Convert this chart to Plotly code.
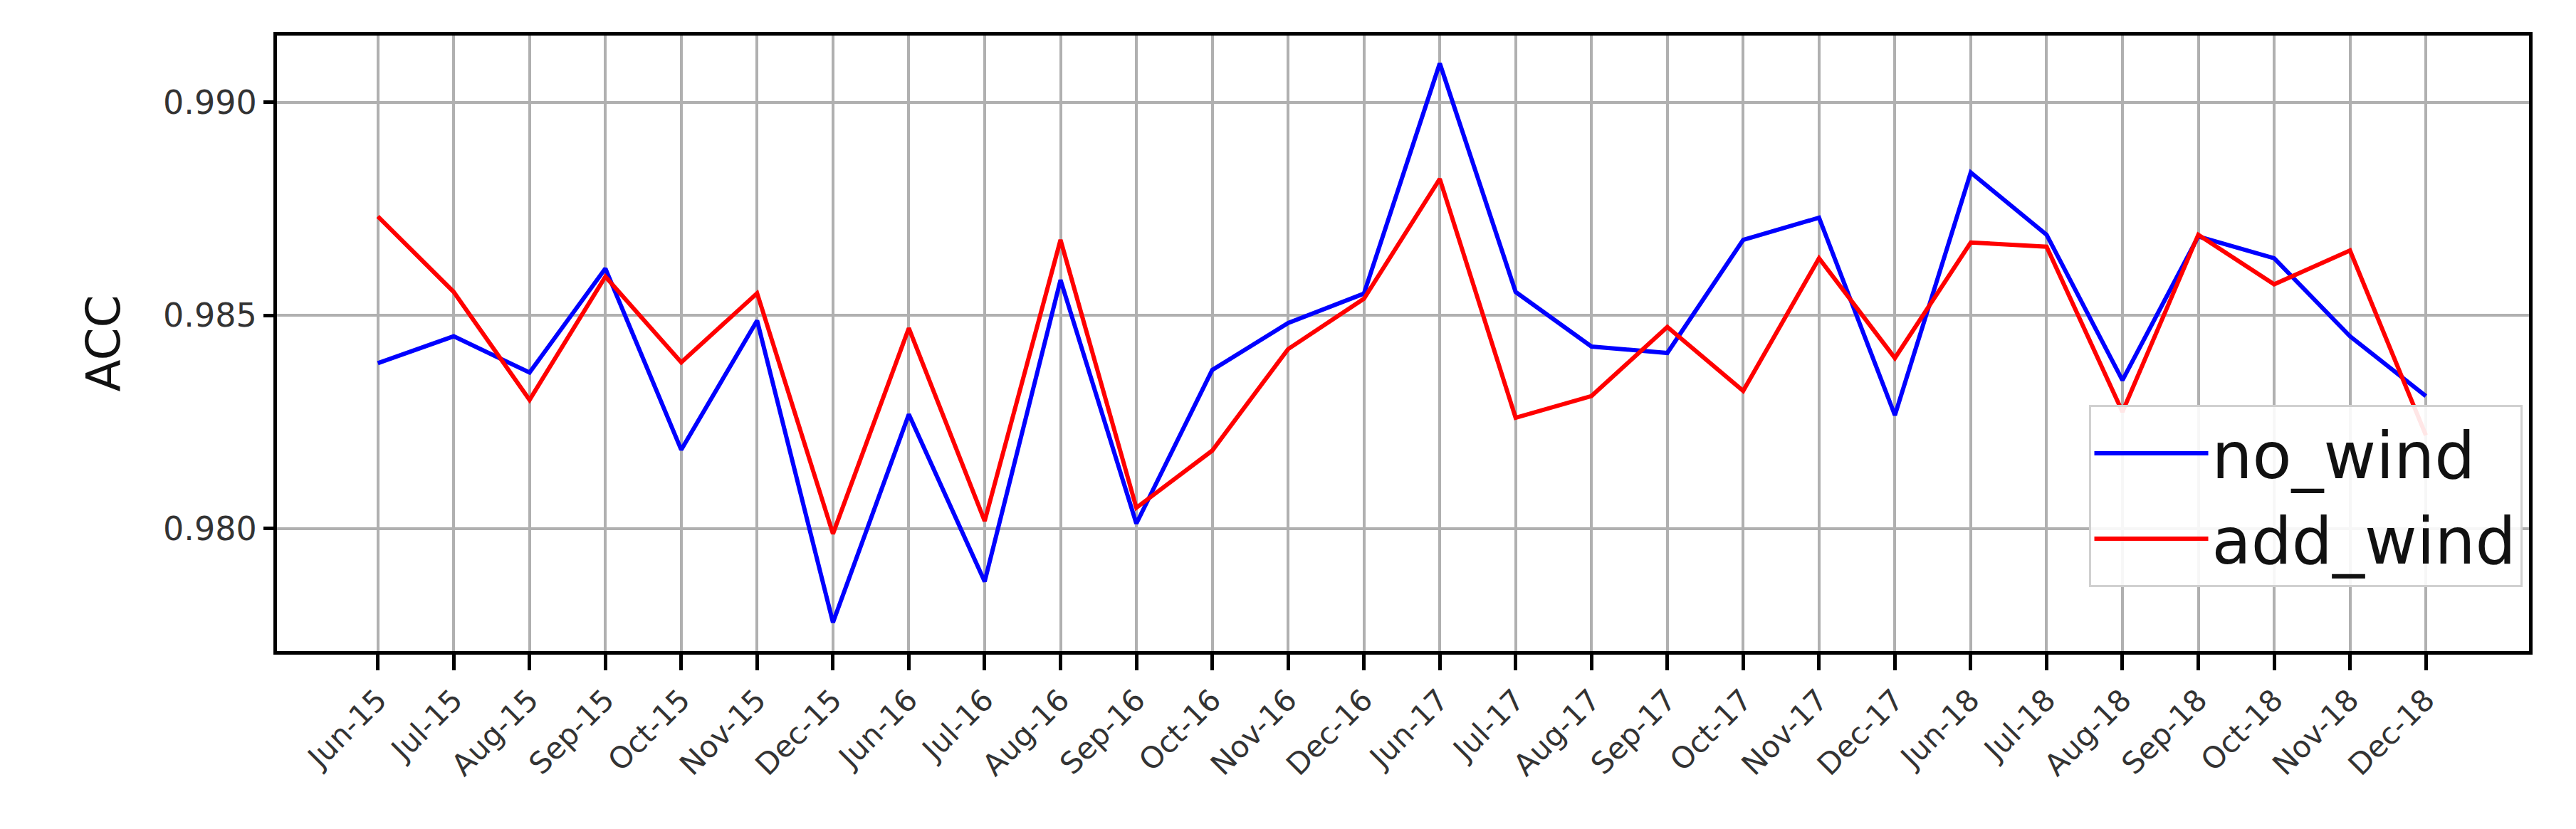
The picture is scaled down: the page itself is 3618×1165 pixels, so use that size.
import plotly.graph_objects as go

months = ["Jun-15","Jul-15","Aug-15","Sep-15","Oct-15","Nov-15","Dec-15","Jun-16","Jul-16","Aug-16","Sep-16","Oct-16","Nov-16","Dec-16",
          "Jun-17","Jul-17","Aug-17","Sep-17","Oct-17","Nov-17","Dec-17","Jun-18","Jul-18","Aug-18","Sep-18","Oct-18","Nov-18","Dec-18"]
no_wind = [0.98388,0.98451,0.98366,0.98610,0.98185,0.98488,0.97780,0.98268,0.97876,0.98583,0.98012,0.98372,0.98482,0.98551,
           0.99091,0.98555,0.98427,0.98412,0.98677,0.98729,0.98266,0.98835,0.98689,0.98348,0.98685,0.98634,0.98451,0.98311]
add_wind = [0.98732,0.98555,0.98302,0.98591,0.98390,0.98552,0.97988,0.98470,0.98018,0.98677,0.98049,0.98183,0.98421,0.98539,
            0.98820,0.98260,0.98311,0.98473,0.98323,0.98634,0.98400,0.98671,0.98661,0.98274,0.98689,0.98573,0.98652,0.98219]
yticks = [0.980, 0.985, 0.990]

x = list(range(len(months)))
fig = go.Figure()
fig.add_trace(go.Scatter(x=x, y=no_wind, mode="lines", name="no_wind", line=dict(color="#0000ff", width=6)))
fig.add_trace(go.Scatter(x=x, y=add_wind, mode="lines", name="add_wind", line=dict(color="#ff0000", width=6)))

fig.update_layout(
    width=3618, height=1165, plot_bgcolor="white", paper_bgcolor="white",
    margin=dict(l=381, r=3618-3544, t=42, b=1165-907),
    font=dict(family="DejaVu Sans", color="#222"),
    legend=dict(x=0.997, y=0.40, xanchor="right", yanchor="top", bgcolor="rgba(255,255,255,0.9)",
                bordercolor="#d0d0d0", borderwidth=3, font=dict(size=90, color="#111"), itemwidth=160,
                tracegroupgap=10),
)
fig.update_xaxes(tickmode="array", tickvals=x, ticktext=months, tickangle=-45, range=[-1.33, 28.36],
                 showgrid=True, gridcolor="#b0b0b0", gridwidth=4, showline=True, linecolor="black", linewidth=5,
                 mirror=True, ticks="outside", ticklen=22, tickwidth=5, tickcolor="black",
                 tickfont=dict(size=42, color="#333"), zeroline=False)
fig.update_yaxes(tickmode="array", tickvals=yticks, ticktext=[f"{v:.3f}" for v in yticks], range=[0.97713, 0.99156],
                 showgrid=True, gridcolor="#b0b0b0", gridwidth=4, showline=True, linecolor="black", linewidth=5,
                 mirror=True, ticks="outside", ticklen=14, tickwidth=5, tickcolor="black",
                 tickfont=dict(size=46, color="#333"), zeroline=False,
                 title=dict(text="ACC", font=dict(size=66, color="#111"), standoff=40))
fig.write_html("out.html")
